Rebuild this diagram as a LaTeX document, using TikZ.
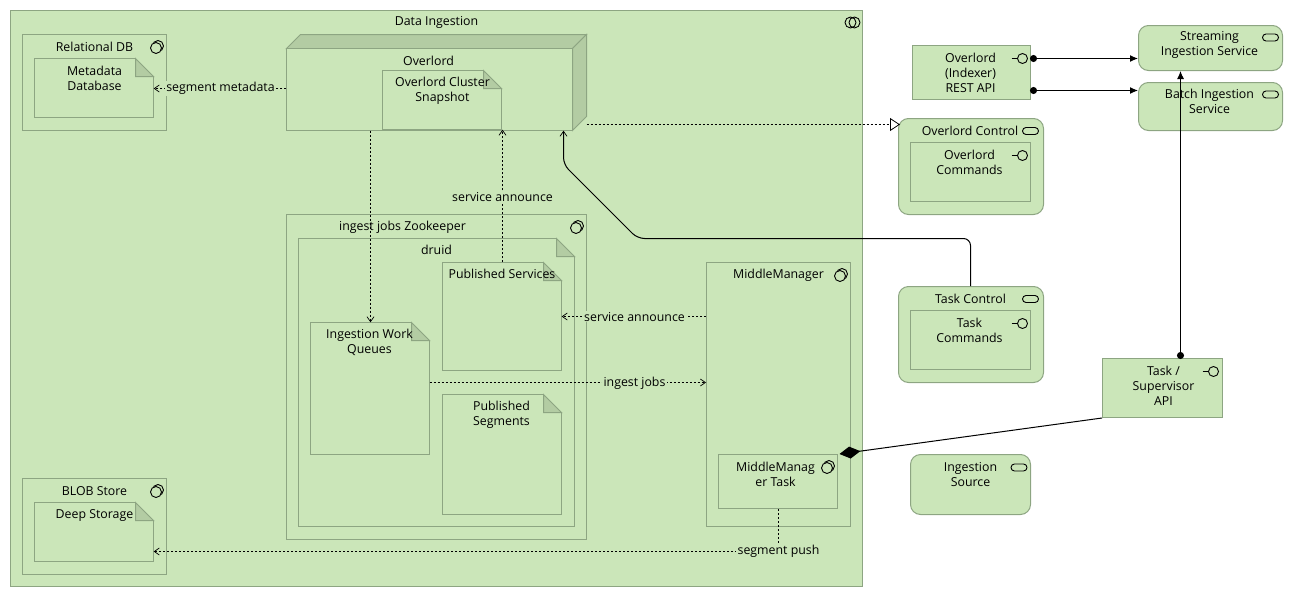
\documentclass[tikz,border=0pt]{standalone}
\usepackage{fontspec}
\setmainfont{Open Sans}
\usetikzlibrary{arrows.meta,fit,calc}
\definecolor{gfill}{RGB}{203,230,185}
\definecolor{gfold}{RGB}{179,204,163}
\definecolor{gline}{RGB}{141,165,130}
\tikzset{
  bx/.style={draw=gline,fill=gfill,line width=1pt,inner sep=0pt,rectangle},
  rbx/.style={bx,rounded corners=10pt},
  ghost/.style={draw=none,fill=none,inner sep=0pt,rectangle},
  foldpart/.style={draw=gline,fill=gfold,line width=1pt,line join=miter},
  lbl/.style={font=\fontsize{12.35}{15}\selectfont,text=black,align=center,inner sep=0pt,yshift=0.2pt},
  clbl/.style={lbl,fill=gfill,inner xsep=1.5pt,inner ysep=1pt},
  dep/.style={draw=black,line width=0.8pt,dash pattern=on 2pt off 2pt},
  sol/.style={draw=black,line width=1pt},
  opentip/.style={-{Straight Barb[length=5pt,width=7pt,line width=0.7pt]}},
  ico/.style={draw=black,line width=0.9pt,fill=none}
}
\newcommand{\Bx}[6][bx]{\path (#3,#4) coordinate (#2-a) (#5,#6) coordinate (#2-b);
  \node[#1,fit=(#2-a)(#2-b)] (#2) {};}
\newcommand{\Nt}[5]{\path (#2,#3) coordinate (#1-a) (#4,#5) coordinate (#1-b);
  \fill[gfill] (#2,#3) -- (#4-18,#3) -- (#4,#3+18) -- (#4,#5) -- (#2,#5) -- cycle;
  \draw[foldpart] (#4-18,#3) -- (#4,#3+18) -- (#4-18,#3+18) -- cycle;
  \draw[draw=gline,line width=1pt] (#4-18,#3) -- (#2,#3) -- (#2,#5) -- (#4,#5) -- (#4,#3+18);
  \node[ghost,fit=(#1-a)(#1-b)] (#1) {};}
\newcommand{\IcoNode}[2]{\draw[ico] (#1+1.5,#2-1.5) circle (5.5pt); \draw[ico,fill=gfill] (#1-0.5,#2+0.5) circle (5.5pt);}
\newcommand{\IcoCollab}[2]{\draw[ico] (#1-2,#2) circle (5.5pt); \draw[ico] (#1+2,#2) circle (5.5pt);}
\newcommand{\IcoIface}[2]{\draw[ico] (#1+3,#2) circle (5pt); \draw[ico] (#1-8,#2) -- (#1-2,#2);}
\newcommand{\IcoServ}[2]{\draw[ico,rounded corners=3.5pt] (#1-8,#2-3.5) rectangle (#1+8,#2+3.5);}
\begin{document}
\begin{tikzpicture}[x=1pt,y=-1pt]
\useasboundingbox (0,0) rectangle (1293,597);
\begin{scope}[shift={(0.5,0.5)}]
% outer
\Bx{outer}{10}{10}{862}{586}
\node[lbl] (outerT) at (436,22) {Data Ingestion};
\IcoCollab{852}{22}
% relational db
\Bx{reldb}{22}{34}{166}{130}
\node[lbl] (reldbT) at (94,46.5) {Relational DB};
\IcoNode{156}{47}
\Nt{meta}{34}{58}{153}{117}
\node[lbl] (metaT) at (94,78.5) {Metadata\\Database};
% overlord
\path (286,34) coordinate (ov-a) (586,130) coordinate (ov-b);
\node[ghost,fit=(ov-a)(ov-b)] (overlord) {};
\draw[foldpart] (286,48) -- (300,34) -- (586,34) -- (572,48) -- cycle;
\draw[foldpart] (572,48) -- (586,34) -- (586,116) -- (572,130) -- cycle;
\draw[bx] (286,48) rectangle (572,130);
\node[lbl] (overlordT) at (428,61) {Overlord};
\Nt{snap}{382}{70}{501}{129}
\node[lbl] (snapT) at (442,90.5) {Overlord Cluster\\Snapshot};
% zookeeper
\Bx{zoo}{286}{214}{586}{539}
\node[lbl] (zooT) at (402,227) {ingest jobs Zookeeper};
\IcoNode{576}{227}
\Nt{druid}{298}{238}{574}{526}
\node[lbl] (druidT) at (436,250) {druid};
\Nt{pubserv}{442}{262}{561}{370}
\node[lbl] (pubservT) at (501.5,274) {Published Services};
\Nt{queues}{310}{322}{429}{454}
\node[lbl] (queuesT) at (369,342.5) {Ingestion Work\\Queues};
\Nt{pubseg}{442}{394}{561}{514}
\node[lbl] (pubsegT) at (501,414.5) {Published\\Segments};
% middle manager
\Bx{mm}{706}{262}{850}{526}
\node[lbl] (mmT) at (778,274.5) {MiddleManager};
\IcoNode{840}{275}
\Bx{mmtask}{718}{454}{837}{508}
\node[lbl] (mmtaskT) at (775,474.5) {MiddleManag\\er Task};
\IcoNode{827}{467}
% blob
\Bx{blob}{22}{478}{166}{574}
\node[lbl] (blobT) at (94,491) {BLOB Store};
\IcoNode{156}{491}
\Nt{deep}{34}{502}{153}{561}
\node[lbl] (deepT) at (94,515) {Deep Storage};
% right side
\Bx{rest}{912}{45}{1030}{99}
\node[lbl] (restT) at (970,73) {Overlord\\(Indexer)\\REST API};
\IcoIface{1019}{58}
\Bx[rbx]{stream}{1138}{25}{1282}{70}
\node[lbl] (streamT) at (1209,44.5) {Streaming\\Ingestion Service};
\IcoServ{1270}{37}
\Bx[rbx]{batch}{1138}{82}{1282}{130}
\node[lbl] (batchT) at (1209,101.5) {Batch Ingestion\\Service};
\IcoServ{1270}{94}
\Bx[rbx]{ovctl}{898}{118}{1043}{214}
\node[lbl] (ovctlT) at (969.5,130.5) {Overlord Control};
\IcoServ{1030}{130.5}
\Bx{ovcmd}{910}{142}{1030}{201}
\node[lbl] (ovcmdT) at (969,162.5) {Overlord\\Commands};
\IcoIface{1019}{155}
\Bx[rbx]{tkctl}{898}{286}{1043}{382}
\node[lbl] (tkctlT) at (970,298.5) {Task Control};
\IcoServ{1030}{298.5}
\Bx{tkcmd}{910}{310}{1030}{369}
\node[lbl] (tkcmdT) at (969,330.5) {Task\\Commands};
\IcoIface{1019}{323}
\Bx{tkapi}{1102}{358}{1222}{417}
\node[lbl] (tkapiT) at (1163,386) {Task /\\Supervisor\\API};
\IcoIface{1210}{371}
\Bx[rbx]{ingsrc}{910}{454}{1030}{514}
\node[lbl] (ingsrcT) at (970,474) {Ingestion\\Source};
\IcoServ{1018.5}{467}
% connectors
\draw[dep,opentip] (overlord.west |- 0,88) -- (meta.east |- 0,88);
\node[clbl] (c1) at (220,88.2) {segment metadata};
\draw[dep,opentip] (overlord.south -| 370,0) -- (queues.north -| 370,0);
\draw[dep,opentip] (pubserv.north -| 502,0) -- (snap.south -| 502,0);
\node[clbl] (c2) at (502,197) {service announce};
\draw[dep,opentip] (mm.west |- 0,316) -- (pubserv.east |- 0,316);
\node[clbl] (c3) at (634,316.5) {service announce};
\draw[dep,opentip] (queues.east |- 0,382) -- (mm.west |- 0,382);
\node[clbl] (c4) at (634,382.5) {ingest jobs};
\draw[dep,opentip] (mmtask.south -| 778,0) -- (778,551) -- (deep.east |- 0,551);
\node[clbl] (c5) at (778,551) {segment push};
\draw[dep,shorten >=-2pt,-{Triangle[open,fill=white,length=10pt,width=13pt,line width=0.8pt]}] (overlord.east |- 0,124) -- (ovctl.west |- 0,124);
\coordinate (k1) at (1029.5,58); \coordinate (k2) at (1029.5,90); \coordinate (k3) at (1180,358.5);
\draw[sol,{Circle[length=7pt]}-{Latex[length=8pt,width=7pt]}] (k1) -- (stream.west |- 0,58);
\draw[sol,{Circle[length=7pt]}-{Latex[length=8pt,width=7pt]}] (k2) -- (batch.west |- 0,90);
\draw[sol,{Circle[length=7pt]}-{Latex[length=8pt,width=7pt]}] (k3) -- (stream.south -| 1180,0);
\draw[sol,rounded corners=7pt,opentip] (tkctl.north -| 970,0) -- (970,238) -- (637,238) -- (563,164) -- (overlord.south -| 563,0);
\draw[sol,-{Diamond[length=21pt,width=12pt,fill=black]}] (tkapi.south west) -- (839,453.5);
\end{scope}
\end{tikzpicture}
\end{document}
